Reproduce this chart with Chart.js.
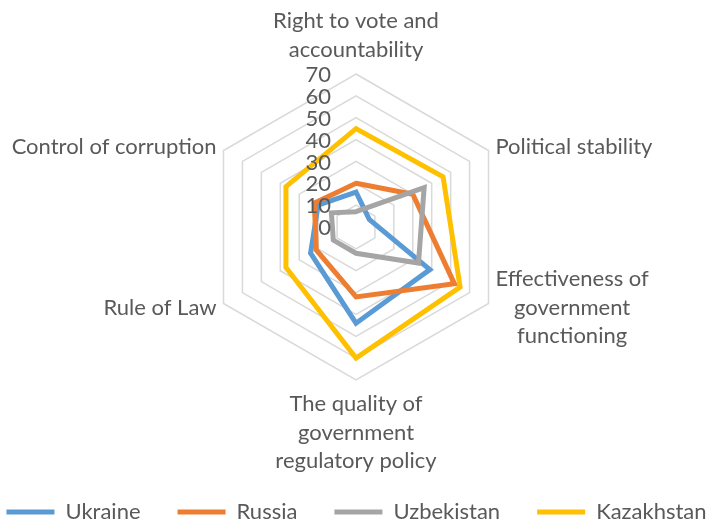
<!DOCTYPE html>
<html lang="en">
<head>
	<meta charset="UTF-8">
	<title>Governance indicators</title>
	<script src="https://cdn.jsdelivr.net/npm/chart.js@4/dist/chart.umd.min.js"></script>
	<style>
		html, body { margin: 0; padding: 0; overflow: hidden; background: #fff; }
		#wrap { position: relative; width: 713px; height: 533px; }
	</style>
</head>
<body>
<div id="wrap"><canvas id="radarChart"></canvas></div>

<script>

// axis labels (one entry per line of text)
var axisLabels = [
	['Right to vote and', 'accountability'],
	['Political stability'],
	['Effectiveness of', 'government', 'functioning'],
	['The quality of', 'government', 'regulatory policy'],
	['Rule of Law'],
	['Control of corruption']
];

// series values
var ukraine    = [16, 7, 39, 44, 24, 20];
var russia     = [20, 30, 52, 32, 21, 22];
var uzbekistan = [7, 36, 33, 12, 12, 13];
var kazakhstan = [45, 46, 55, 60, 37, 37];

var scaleMin = 0;
var scaleMax = 70;
var scaleStep = 10;

var textColor = '#595959';
var fontFamily = 'Lato, "Open Sans", sans-serif';

// point labels and tick labels drawn Excel style (centred lines, ticks left of the axis)
var excelLabels = {
	id: 'excelLabels',
	afterDatasetsDraw: function(chart) {
		var scale = chart.scales.r;
		var ctx = chart.ctx;
		ctx.save();
		ctx.fillStyle = textColor;
		ctx.font = '22px ' + fontFamily;

		// tick labels
		ctx.textAlign = 'right';
		ctx.textBaseline = 'middle';
		scale.ticks.forEach(function(tick) {
			var dist = scale.getDistanceFromCenterForValue(tick.value);
			ctx.fillText(String(tick.value), scale.xCenter - 25, scale.yCenter - dist + 1);
		});

		// point labels
		var lineH = 28.5;
		ctx.textAlign = 'center';
		axisLabels.forEach(function(lines, i) {
			var pos = scale.getPointPosition(i, scale.drawingArea + 8);
			var angle = scale.getIndexAngle(i);
			var s = Math.sin(angle), c = Math.cos(angle);
			var w = 0;
			lines.forEach(function(t) { w = Math.max(w, ctx.measureText(t).width); });
			var blockH = lines.length * lineH;
			var cx = pos.x;
			if (s > 0.1) cx = pos.x + w / 2;
			else if (s < -0.1) cx = pos.x - w / 2;
			var top = pos.y - blockH / 2;
			if (c > 0.9) top = pos.y - blockH - 2;
			else if (c < -0.9) top = pos.y + 2;
			lines.forEach(function(t, k) {
				ctx.fillText(t, cx, top + lineH * k + lineH / 2);
			});
		});
		ctx.restore();
	}
};

function series(label, values, color, order) {
	return {
		label: label,
		data: values,
		borderColor: color,
		backgroundColor: color,
		borderWidth: 5,
		pointRadius: 0,
		pointHoverRadius: 0,
		fill: false,
		order: order
	};
}

const ctx = document.getElementById('radarChart').getContext('2d');
const radarChart = new Chart(ctx, {
	type: 'radar',
	data: {
		labels: axisLabels.map(function(l) { return l.join(' '); }),
		datasets: [
			series('Ukraine', ukraine, '#5B9BD5', 3),
			series('Russia', russia, '#ED7D31', 2),
			series('Uzbekistan', uzbekistan, '#A5A5A5', 1),
			series('Kazakhstan', kazakhstan, '#FFC000', 0)
		]
	},
	options: {
		responsive: true,
		maintainAspectRatio: false,
		animation: false,
		layout: { padding: { top: 74 } },
		scales: {
			r: {
				min: scaleMin,
				max: scaleMax,
				ticks: { stepSize: scaleStep, display: false },
				grid: { color: '#d9d9d9', lineWidth: 1.5 },
				angleLines: { display: false },
				pointLabels: { display: false },
				afterFit: function(scale) {
					// fixed plot radius like the original
					scale.drawingArea = 153;
					scale.yCenter = scale.top + 153;
				}
			}
		},
		plugins: {
			tooltip: { enabled: false },
			legend: {
				position: 'bottom',
				labels: {
					boxWidth: 48,
					boxHeight: 5,
					useBorderRadius: true,
					borderRadius: 2.5,
					padding: 4,
					font: { family: fontFamily, size: 22 },
					generateLabels: function(chart) {
						var ds = chart.data.datasets;
						return ds.map(function(d, i) {
							return {
								text: d.label + (i < ds.length - 1 ? '\u2002\u2002\u2002' : ''),
								fillStyle: d.borderColor,
								strokeStyle: d.borderColor,
								fontColor: textColor,
								lineWidth: 0,
								datasetIndex: i,
								hidden: false
							};
						});
					}
				}
			}
		}
	},
	plugins: [excelLabels]
});
</script>
</body>
</html>
